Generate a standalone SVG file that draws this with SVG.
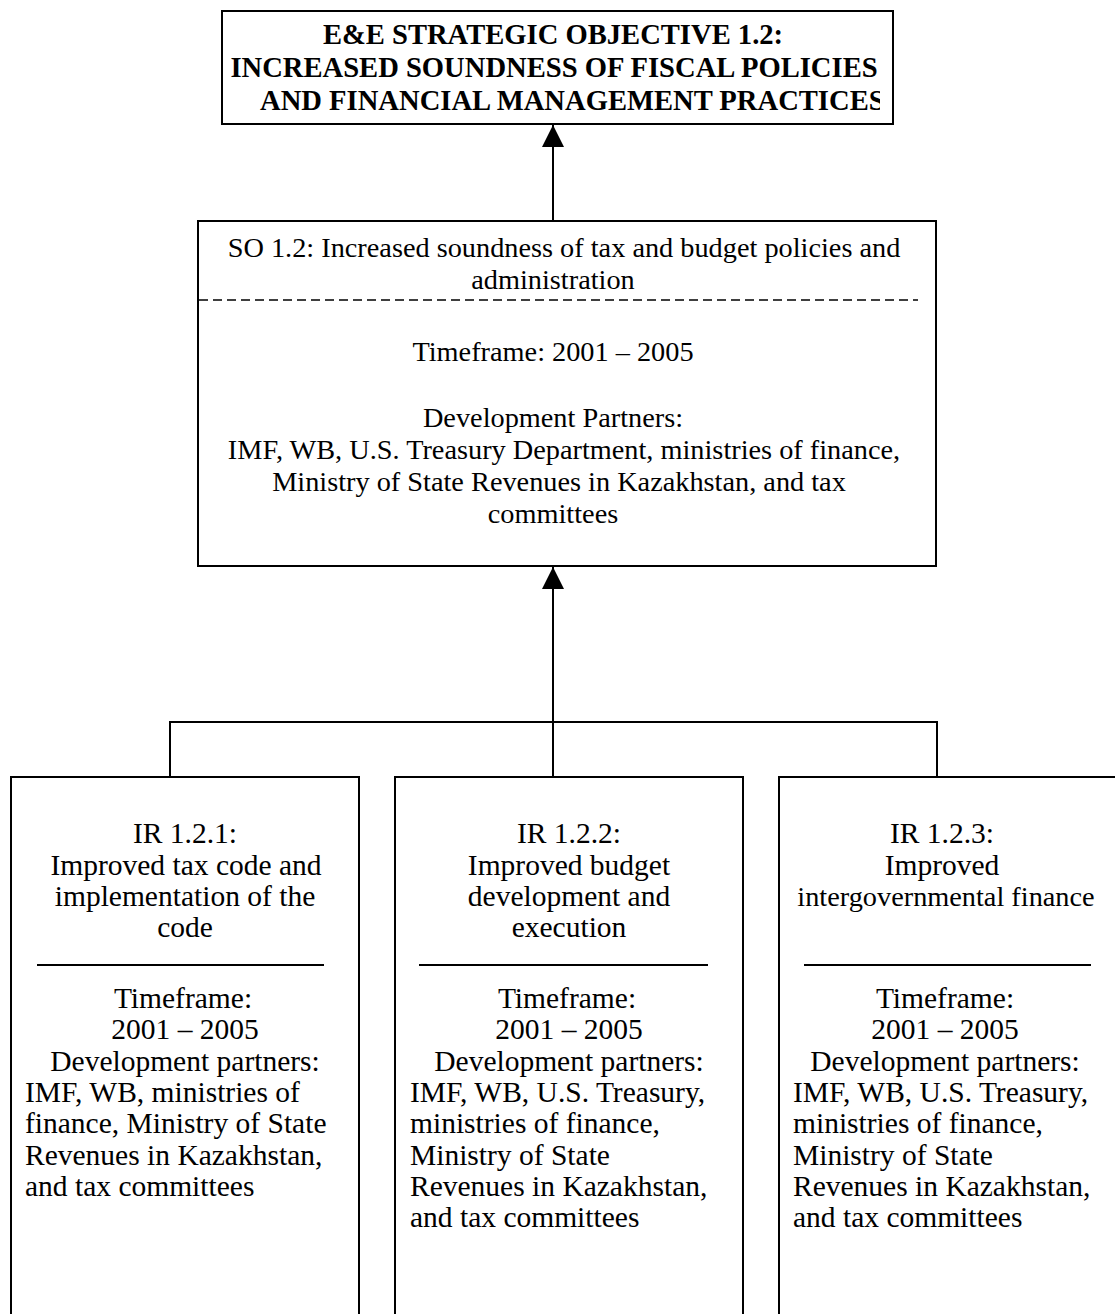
<svg xmlns="http://www.w3.org/2000/svg" width="1115" height="1314" viewBox="0 0 1115 1314">
<style>
.box{fill:#fff;stroke:#000;stroke-width:2}
.ln{fill:none;stroke:#000;stroke-width:2}
.t{font-family:"Liberation Serif","Times New Roman",serif;font-size:28.3px;fill:#000}
.ir{font-size:29.5px}
.c{text-anchor:middle}
.b{font-weight:bold;font-size:28.6px}
</style>
<defs>
<marker id="ah2" markerWidth="22" markerHeight="22" refX="22" refY="11" orient="auto" markerUnits="userSpaceOnUse" viewBox="0 0 22 22"><path d="M0,0 L22,11 L0,22 Z" fill="#000"/></marker>
<clipPath id="tclip"><rect x="200" y="85" width="680" height="38"/></clipPath>
</defs>
<g id="connectors">
<line class="ln" x1="553" y1="220" x2="553" y2="125" marker-end="url(#ah2)"/>
<line class="ln" x1="553" y1="777" x2="553" y2="567" marker-end="url(#ah2)"/>
<polyline class="ln" points="170,777 170,722 937,722 937,777"/>
</g>
<g id="top-objective">
<rect class="box" x="222" y="11" width="671" height="113"/>
<text class="t c b" x="553" y="44">E&amp;E STRATEGIC OBJECTIVE 1.2:</text>
<text class="t c b" x="554" y="77">INCREASED SOUNDNESS OF FISCAL POLICIES</text>
<text class="t b" x="260" y="110" clip-path="url(#tclip)">AND FINANCIAL MANAGEMENT PRACTICES</text>
</g>
<g id="so-1-2">
<rect class="box" x="198" y="221" width="738" height="345"/>
<text class="t c" x="564" y="257">SO 1.2: Increased soundness of tax and budget policies and</text>
<text class="t c" x="553" y="289">administration</text>
<line x1="199" y1="300" x2="918" y2="300" stroke="#000" stroke-width="1.5" stroke-dasharray="9,5"/>
<text class="t c" x="553" y="361">Timeframe: 2001 – 2005</text>
<text class="t c" x="553" y="427">Development Partners:</text>
<text class="t c" x="564" y="459">IMF, WB, U.S. Treasury Department, ministries of finance,</text>
<text class="t c" x="559" y="491">Ministry of State Revenues in Kazakhstan, and tax</text>
<text class="t c" x="553" y="523">committees</text>
</g>
<g id="ir-1-2-1">
<rect class="box" x="11" y="777" width="348" height="560"/>
<text class="t ir c" x="185" y="843">IR 1.2.1:</text>
<text class="t ir c" x="186" y="875">Improved tax code and</text>
<text class="t ir c" x="185" y="906">implementation of the</text>
<text class="t ir c" x="185" y="937">code</text>
<line class="ln" x1="37" y1="965" x2="324" y2="965"/>
<text class="t ir c" x="183" y="1008">Timeframe:</text>
<text class="t ir c" x="185" y="1039">2001 – 2005</text>
<text class="t ir c" x="185" y="1071">Development partners:</text>
<text class="t ir" x="25" y="1102">IMF, WB, ministries of</text>
<text class="t ir" x="25" y="1133">finance, Ministry of State</text>
<text class="t ir" x="25" y="1165">Revenues in Kazakhstan,</text>
<text class="t ir" x="25" y="1196">and tax committees</text>
</g>
<g id="ir-1-2-2">
<rect class="box" x="395" y="777" width="348" height="560"/>
<text class="t ir c" x="569" y="843">IR 1.2.2:</text>
<text class="t ir c" x="569" y="875">Improved budget</text>
<text class="t ir c" x="569" y="906">development and</text>
<text class="t ir c" x="569" y="937">execution</text>
<line class="ln" x1="419" y1="965" x2="708" y2="965"/>
<text class="t ir c" x="567" y="1008">Timeframe:</text>
<text class="t ir c" x="569" y="1039">2001 – 2005</text>
<text class="t ir c" x="569" y="1071">Development partners:</text>
<text class="t ir" x="410" y="1102">IMF, WB, U.S. Treasury,</text>
<text class="t ir" x="410" y="1133">ministries of finance,</text>
<text class="t ir" x="410" y="1165">Ministry of State</text>
<text class="t ir" x="410" y="1196">Revenues in Kazakhstan,</text>
<text class="t ir" x="410" y="1227">and tax committees</text>
</g>
<g id="ir-1-2-3">
<rect class="box" x="779" y="777" width="360" height="560"/>
<text class="t ir c" x="942" y="843">IR 1.2.3:</text>
<text class="t ir c" x="942" y="875">Improved</text>
<text class="t c" x="946" y="906">intergovernmental finance</text>
<line class="ln" x1="804" y1="965" x2="1091" y2="965"/>
<text class="t ir c" x="945" y="1008">Timeframe:</text>
<text class="t ir c" x="945" y="1039">2001 – 2005</text>
<text class="t ir c" x="945" y="1071">Development partners:</text>
<text class="t ir" x="793" y="1102">IMF, WB, U.S. Treasury,</text>
<text class="t ir" x="793" y="1133">ministries of finance,</text>
<text class="t ir" x="793" y="1165">Ministry of State</text>
<text class="t ir" x="793" y="1196">Revenues in Kazakhstan,</text>
<text class="t ir" x="793" y="1227">and tax committees</text>
</g>
</svg>
